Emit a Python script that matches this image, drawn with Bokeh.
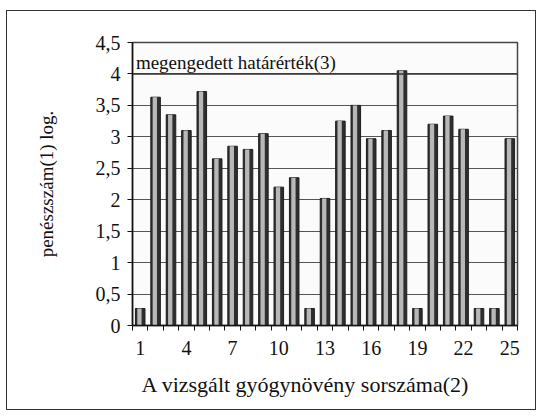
from bokeh.plotting import figure
from bokeh.models import FixedTicker, Range1d, Span, ColumnDataSource, Title
from bokeh.transform import dodge
from bokeh.core.properties import value
from bokeh.embed import file_html
from bokeh.resources import INLINE

# data
samples = list(range(1, 26))
log_counts = [0.27, 3.63, 3.35, 3.1, 3.72, 2.65, 2.85, 2.8, 3.05, 2.2,
              2.35, 0.27, 2.02, 3.25, 3.5, 2.97, 3.1, 4.05, 0.27, 3.2,
              3.33, 3.12, 0.27, 0.27, 2.97]
limit_value = [4.0]
limit_label = ["megengedett határérték(3)"]
y_ticks = [0, 0.5, 1, 1.5, 2, 2.5, 3, 3.5, 4, 4.5]
y_tick_labels = ["0", "0,5", "1", "1,5", "2", "2,5", "3", "3,5", "4", "4,5"]
x_ticks = [1, 4, 7, 10, 13, 16, 19, 22, 25]
x_title = "A vizsgált gyógynövény sorszáma(2)"
y_title = "penészszám(1) log."

FONT = "Liberation Serif"

src = ColumnDataSource(dict(x=samples, y=log_counts))

p = figure(width=530, height=400, output_backend="svg", toolbar_location=None,
           x_range=Range1d(0.5, 25.5), y_range=Range1d(0, 4.5),
           min_border_left=125, min_border_right=20, min_border_top=31,
           min_border_bottom=86)
p.styles = {"border": "1px solid #333", "margin-left": "6px", "margin-top": "10px"}

p.outline_line_color = "#444444"
p.outline_line_width = 1.5
p.background_fill_color = "#fbfbfb"

# bars: dark body + light highlight
p.vbar(x="x", top="y", bottom=0, width=0.62, source=src,
       fill_color="#2e2e2e", line_color="#1e1e1e", line_width=1)
p.vbar(x=dodge("x", -0.05, range=p.x_range), top="y", bottom=0, width=0.28,
       source=src, fill_color="#b8b8b8", line_color=None)

# limit line and label
p.add_layout(Span(location=limit_value[0], dimension="width",
                  line_color="#333333", line_width=1.5))
p.text(x=[0.72], y=limit_value, text=limit_label, text_font=value(FONT),
       text_font_size="19px", text_baseline="bottom", text_align="left",
       text_color="#111111", y_offset=-1)

# axes
p.yaxis.ticker = FixedTicker(ticks=y_ticks)
p.yaxis.major_label_overrides = {t: l for t, l in zip(y_ticks, y_tick_labels)}
p.xaxis.ticker = FixedTicker(ticks=x_ticks,
                             minor_ticks=[i + 0.5 for i in range(0, 26)])
p.xaxis.major_tick_out = 0
p.xaxis.major_tick_in = 0
p.xaxis.minor_tick_out = 5
p.xaxis.minor_tick_in = 0
p.yaxis.major_tick_out = 5
p.yaxis.major_tick_in = 0

for ax in (p.xaxis, p.yaxis):
    ax.axis_line_color = "#111111"
    ax.axis_line_width = 1.5
    ax.major_tick_line_color = "#111111"
    ax.minor_tick_line_color = "#111111"
    ax.major_label_text_font = FONT
    ax.major_label_text_font_size = "20px"
    ax.major_label_text_color = "#111111"
    ax.axis_label_text_font = FONT
    ax.axis_label_text_font_size = "19px"
    ax.axis_label_text_font_style = "normal"
    ax.axis_label_text_color = "#111111"

p.yaxis.minor_tick_line_color = None
p.yaxis.axis_label = y_title
p.xaxis.major_label_standoff = 10
p.yaxis.major_label_standoff = 7
p.yaxis.axis_label_standoff = 36

# x-axis title, slightly left of centre as in the original
p.add_layout(Title(text=x_title, text_font=FONT, text_font_size="22px",
                   text_font_style="normal", text_color="#111111",
                   align="left", offset=9, standoff=25), "below")

p.xgrid.grid_line_color = None
p.ygrid.ticker = FixedTicker(ticks=y_ticks)
p.ygrid.grid_line_color = "#555555"
p.ygrid.grid_line_width = 1

open("out.html", "w").write(file_html(p, INLINE))
